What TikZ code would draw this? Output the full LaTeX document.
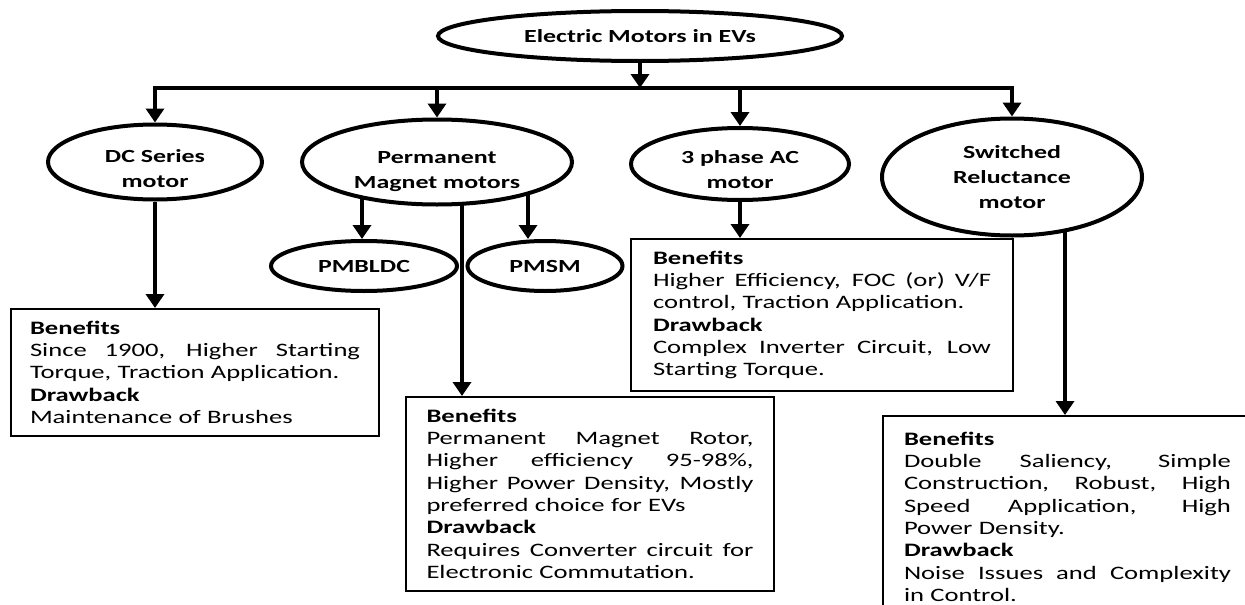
\documentclass[tikz,border=0pt]{standalone}
\usepackage{fontspec}
\setmainfont{Carlito}[FakeStretch=1.4]
\usetikzlibrary{shapes.geometric,arrows.meta,backgrounds}
\newcommand{\jline}[2]{\leavevmode\hbox to #1{\spaceskip=0.3em plus 1fil\relax #2}}
\begin{document}
\begin{tikzpicture}[x=1pt,y=-1pt,
  oval/.style={ellipse, draw, line width=4pt, fill=white, inner sep=0pt},
  ovaltext/.style={align=center, inner sep=0pt,
               font=\bfseries\fontsize{18.5}{25}\selectfont},
  infobox/.style={draw, line width=2pt, fill=white, align=left, anchor=north west,
               inner ysep=12pt, font=\fontsize{19}{22.3}\selectfont},
  arr/.style={line width=4.5pt, -{Triangle[width=18pt,length=14pt]}},
  conn/.style={line width=4.5pt, line cap=rect}]
\useasboundingbox (0,0) rectangle (1245,605);

% ellipses
\node[oval, minimum width=404pt, minimum height=50pt] (top) at (640,36) {};
\node[ovaltext] (top-t) at (top.center) {Electric Motors in EVs};
\node[oval, minimum width=214pt, minimum height=75pt] (dc) at (155,162) {};
\node[ovaltext] (dc-t) at ([yshift=-7pt]dc.center) {DC Series\\motor};
\node[oval, minimum width=270pt, minimum height=85pt] (pm) at (437,162) {};
\node[ovaltext] (pm-t) at ([yshift=-10pt]pm.center) {Permanent\\Magnet motors};
\node[oval, minimum width=218pt, minimum height=72pt] (ac) at (740,164) {};
\node[ovaltext] (ac-t) at ([yshift=-6pt]ac.center) {3 phase AC\\motor};
\node[oval, minimum width=260pt, minimum height=117pt] (sr) at (1012,177) {};
\node[ovaltext] (sr-t) at (sr.center) {Switched\\Reluctance\\motor};
\node[oval, minimum width=186pt, minimum height=50pt] (pmbldc) at (364,266) {};
\node[ovaltext] (pmbldc-t) at (pmbldc.center) {PMBLDC};
\node[oval, minimum width=155pt, minimum height=50pt] (pmsm) at (545,266) {};
\node[ovaltext] (pmsm-t) at (pmsm.center) {PMSM};

% boxes
\node[infobox, text width=330pt, inner xsep=19pt] (dcbox) at (10,308) {%
\textbf{Benefits}\\
\jline{330pt}{Since 1900, Higher Starting}\\
Torque, Traction Application.\\
\textbf{Drawback}\\
Maintenance of Brushes};

\node[infobox, text width=327pt, inner xsep=20.5pt] (pmbox) at (405,396) {%
\textbf{Benefits}\\
\jline{327pt}{Permanent Magnet Rotor,}\\
\jline{327pt}{Higher efficiency 95-98\%,}\\
\jline{327pt}{Higher Power Density, Mostly}\\
preferred choice for EVs\\
\textbf{Drawback}\\
\jline{327pt}{Requires Converter circuit for}\\
Electronic Commutation.};

\node[infobox, text width=338pt, inner xsep=22pt] (acbox) at (630,238) {%
\textbf{Benefits}\\
\jline{338pt}{Higher Efficiency, FOC (or) V/F}\\
control, Traction Application.\\
\textbf{Drawback}\\
\jline{338pt}{Complex Inverter Circuit, Low}\\
Starting Torque.};

\node[infobox, text width=327pt, inner xsep=21pt, inner ysep=16pt] (srbox) at (882,415) {%
\textbf{Benefits}\\
\jline{327pt}{Double Saliency, Simple}\\
\jline{327pt}{Construction, Robust, High}\\
\jline{327pt}{Speed Application, High}\\
Power Density.\\
\textbf{Drawback}\\
\jline{327pt}{Noise Issues and Complexity}\\
in Control.};

% helper coordinates
\coordinate (bus) at (640,88);
\coordinate (xbldc) at (362,0);
\coordinate (xpmsm) at (528,0);
\coordinate (xpm) at (462,0);
\coordinate (xsr) at (1065,0);

% connectors
\begin{pgfonlayer}{background}
\draw[conn] (dc.north |- bus) -- (sr.north |- bus);
\draw[arr] (top.south) -- (bus);
\draw[arr] (dc.north |- bus) -- (dc.north);
\draw[arr] (pm.north |- bus) -- (pm.north);
\draw[arr] (ac.north |- bus) -- (ac.north);
\draw[arr] (sr.north |- bus) -- (sr.north);
\draw[arr] (dc.south) -- (dc.south |- dcbox.north);
\draw[arr] (xbldc |- pm.center) -- (xbldc |- pmbldc.north);
\draw[arr] (xpmsm |- pm.center) -- (xpmsm |- pmsm.north);
\draw[arr] (xpm |- pm.center) -- (xpm |- pmbox.north);
\draw[arr] (ac.south) -- (ac.south |- acbox.north);
\draw[arr] (xsr |- sr.center) -- (xsr |- srbox.north);
\end{pgfonlayer}
\end{tikzpicture}
\end{document}
